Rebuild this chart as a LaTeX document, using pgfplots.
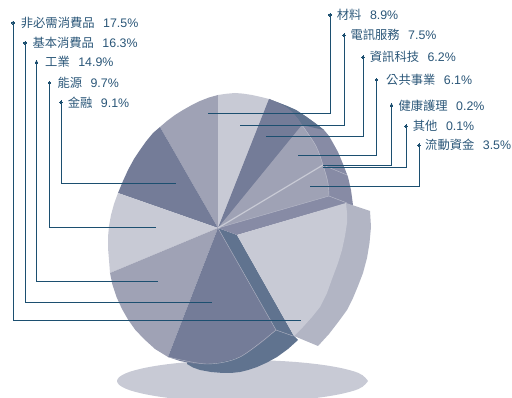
\documentclass[border=0pt]{standalone}
\usepackage{pgfplots}
\pgfplotsset{compat=1.18}
\usepackage{fontspec}
\setmainfont{Liberation Sans}
\newfontfamily\cjk{Noto Sans CJK TC}
\definecolor{cLight}{HTML}{C8CAD5}
\definecolor{cMid}{HTML}{9FA2B5}
\definecolor{cDark}{HTML}{747C98}
\definecolor{cBand}{HTML}{60738F}
\definecolor{cWall}{HTML}{878BA5}
\definecolor{cSide}{HTML}{B2B5C4}
\definecolor{cEdge}{HTML}{BDBFCD}
\definecolor{cLead}{HTML}{1C4F70}
\definecolor{cText}{HTML}{2A5678}
% one legend entry: x, y, name, share
\newcommand\entry[4]{\node[anchor=west,inner sep=0pt,text=cText,font=\fontsize{12.3}{14}\selectfont] at (axis cs:#1,#2) {{\cjk #3}\hspace{8.5pt}{\fontsize{12.4}{14}\selectfont #4\%}};}
\pgfplotsset{
  face/.style={fill=#1,draw=none,no marks,forget plot},
  seam/.style={draw=cEdge,line width=0.4pt,no marks,forget plot},
  lead/.style={draw=cLead,line width=1pt,no marks,forget plot,line join=miter},
}
\begin{document}
\begin{tikzpicture}
\begin{axis}[scale only axis,width=512pt,height=398pt,xmin=0,xmax=512,ymin=0,ymax=398,y dir=reverse,hide axis]
\path (axis cs:0,0) (axis cs:512,398);
% ground shadow
\addplot[fill=cLight,draw=none,smooth,tension=0.6,no marks,forget plot] coordinates {(368,381)(358.5,373)(331.2,366.2)(290.5,361.6)(242.5,360)(194.5,361.6)(153.8,366.2)(126.5,373)(117,381)(126.5,389)(153.8,395.8)(194.5,400.4)(242.5,402)(290.5,400.4)(331.2,395.8)(358.5,389)(368,381)};
% rear wall of the pie
\addplot[face=cWall] coordinates {(218,228)(269,99)(278,102.5)(287,106)(296,110)(306,116.5)(315,123)(324,130)(329,136)(333,143)(338,152)(343,164)(348,177)(351,190)(353,205)(218,228)};
\addplot[face=cBand] coordinates {(269,99)(278,102.5)(287,106)(296,110)(306,116.5)(315,123)(324,130)(302,125)(298,119)(293,113)(288,108.5)(283,105.5)(276,102)(269,99)};
% front wall under the pie and the cut face beside the detached slice
\addplot[face=cBand] coordinates {(218,228)(237,235)(294,336)(298,340)(288,349)(277,357)(267,362.5)(257,367)(248,370)(240,372)(231,373)(223,373)(211,372)(200,370)(193,367.5)(187,364)(218,228)};
% top faces
\addplot[face=cMid] coordinates {(218,228)(160,127)(167,121)(175,115)(183,110)(191,105.5)(200,101)(209,97.5)(218,95)(218,228)};
\addplot[face=cLight] coordinates {(218,228)(218,95)(226,93.8)(235,93)(243,93.6)(252,95)(261,97)(269,99)(218,228)};
\addplot[face=cDark] coordinates {(218,228)(269,99)(276,102)(283,105.5)(288,108.5)(293,113)(298,119)(302,125)(218,228)};
\addplot[face=cMid] coordinates {(218,228)(302,125)(307,132)(312,139)(316,146)(319,153)(321.5,160)(323,165)(218,228)};
\addplot[face=cMid] coordinates {(218,228)(323,165)(325,171)(327,177)(328,183)(328.7,190)(329,196)(218,228)};
\addplot[face=cWall] coordinates {(218,228)(329,196)(347,203)(237,235)(218,228)};
\addplot[face=cDark] coordinates {(218,228)(160,127)(153,133)(146,141.5)(140,150)(134,159)(128,170)(123,181)(118,193)(218,228)};
\addplot[face=cLight] coordinates {(218,228)(118,193)(114,204)(111,215)(109,226)(108,237)(108,248)(109,260)(110,273)(218,228)};
\addplot[face=cMid] coordinates {(218,228)(110,273)(112.5,285)(116.5,297)(122,309)(128,319.5)(135,329.5)(144,339)(155,349)(168,357)(218,228)};
\addplot[face=cDark] coordinates {(218,228)(168,357)(180,361)(193,363.5)(207,364)(219,362.5)(230,360)(240,357)(250,351)(260,344)(268,337.5)(276,330)(218,228)};
% seams between faces
\addplot[seam] coordinates {(218,228)(329,196)(347,203)};
\addplot[seam,line width=1.2pt,draw=cLight] coordinates {(218,228)(323,165)};
\addplot[seam] coordinates {(323,165)(347,175)};
\addplot[seam,smooth] coordinates {(302,125)(316,146)(323,165)(328,183)(329,196)};
\addplot[seam,draw=cSide] coordinates {(218,228)(276,330)(293,336)};
\addplot[seam,smooth,draw=cSide] coordinates {(168,357)(207,364)(240,357)(276,330)};
% detached slice: outer wall, then its top
\addplot[face=cSide] coordinates {(346,203)(370,211)(371,227)(369.5,243)(367,258)(363,273)(358,286)(353,298)(347,310)(339,321)(329,334)(318,346)(294,336)(346,203)};
\addplot[face=cLight] coordinates {(237,235)(346,203)(347,213)(347,223)(345,236)(342,250)(338,263)(332,279)(327,293)(320,307)(312,317)(303,327)(294,336)(237,235)};
% leader lines, left group
\addplot[lead] coordinates {(13,22.7)(13,320.5)(301,320.5)};
\addplot[lead] coordinates {(25,43)(25,303)(212,303)};
\addplot[lead] coordinates {(36.5,62.3)(36.5,281.2)(158,281.2)};
\addplot[lead] coordinates {(49.5,83)(49.5,227.7)(156,227.7)};
\addplot[lead] coordinates {(61,102.3)(61,183.2)(176,183.2)};
% leader lines, right group
\addplot[lead] coordinates {(330,15)(330,113.2)(208,113.2)};
\addplot[lead] coordinates {(344,35.3)(344,125.5)(240,125.5)};
\addplot[lead] coordinates {(363,57.3)(363,137)(266,137)};
\addplot[lead] coordinates {(376.5,80)(376.5,155.5)(298,155.5)};
\addplot[lead] coordinates {(391.5,105.3)(391.5,165.5)(322.7,165.5)};
\addplot[lead] coordinates {(406,126.3)(406,168)(323,168)};
\addplot[lead] coordinates {(419,145.3)(419,187)(310,187)};
% end dots of the leaders
\addplot[only marks,mark=*,mark size=1.4pt,mark options={draw=cLead,fill=cLead,line width=0pt},forget plot] coordinates {(13,22.7)(25,43)(36.5,62.3)(49.5,83)(61,102.3)(330,15)(344,35.3)(363,57.3)(376.5,80)(391.5,105.3)(406,126.3)(419,145.3)};
% sector names and shares
\entry{20.7}{22.7}{非必需消費品}{17.5}
\entry{32.3}{43}{基本消費品}{16.3}
\entry{45}{62.3}{工業}{14.9}
\entry{57.3}{83}{能源}{9.7}
\entry{67.7}{102.3}{金融}{9.1}
\entry{336.7}{15}{材料}{8.9}
\entry{350.3}{35.3}{電訊服務}{7.5}
\entry{369.7}{57.3}{資訊科技}{6.2}
\entry{386}{80}{公共事業}{6.1}
\entry{398.3}{105.3}{健康護理}{0.2}
\entry{412.7}{126.3}{其他}{0.1}
\entry{425}{145.3}{流動資金}{3.5}
\end{axis}
\end{tikzpicture}
\end{document}
